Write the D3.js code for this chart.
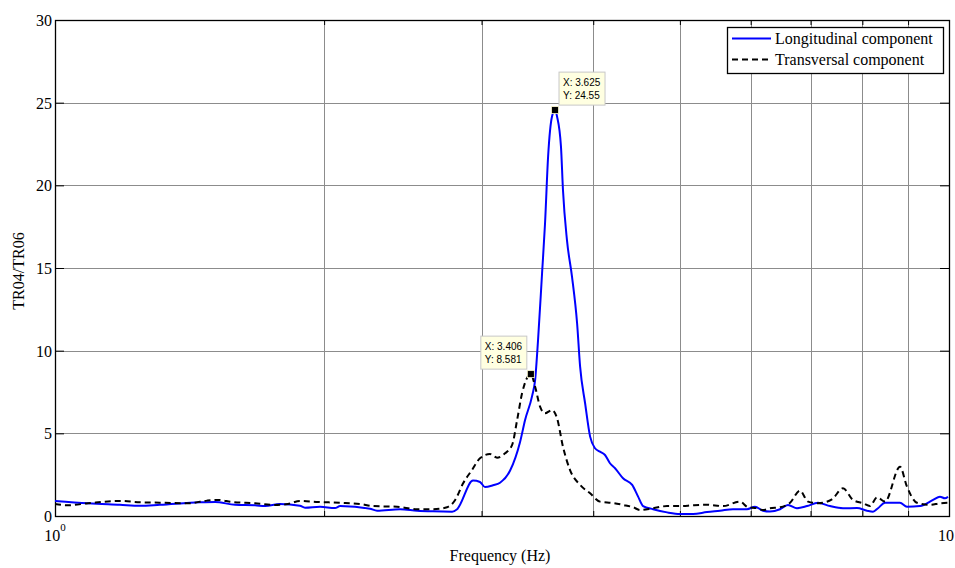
<!DOCTYPE html>
<html><head><meta charset="utf-8">
<script src="https://cdn.jsdelivr.net/npm/d3@7"></script>
<style>
html,body{margin:0;padding:0;background:#fff;}
svg{display:block;}
</style></head>
<body>
<svg id="chart" width="955" height="568"></svg>
<script>
// ---- data ----
const longFreq = [1.000,1.089,1.182,1.245,1.310,1.453,1.510,1.590,1.674,1.718,1.785,1.879,1.904,1.979,2.057,2.084,2.251,2.292,2.432,2.541,2.647,2.781,2.817,2.935,2.988,3.027,3.090,3.146,3.229,3.313,3.356,3.417,3.444,3.470,3.506,3.533,3.561,3.597,3.625,3.644,3.681,3.700,3.738,3.787,3.837,3.867,3.917,3.968,4.018,4.070,4.123,4.176,4.231,4.319,4.422,4.490,4.548,4.667,4.837,5.003,5.172,5.362,5.544,5.733,5.943,6.067,6.193,6.305,6.471,6.605,6.761,6.938,7.136,7.360,7.610,7.890,8.096,8.222,8.329,8.480,8.814,8.974,9.281,9.597,9.770,9.897,9.975];
const longVal = [0.91,0.77,0.68,0.62,0.68,0.83,0.85,0.68,0.65,0.60,0.73,0.62,0.50,0.56,0.48,0.60,0.44,0.32,0.41,0.32,0.28,0.26,0.41,2.14,2.06,1.75,1.86,2.01,2.75,4.48,5.81,7.25,8.23,10.65,14.68,17.71,21.74,24.16,24.55,24.16,22.34,19.72,16.70,14.48,11.66,9.03,6.82,4.80,4.10,3.89,3.69,3.19,2.89,2.28,1.88,1.17,0.60,0.41,0.22,0.12,0.12,0.24,0.32,0.41,0.41,0.56,0.32,0.27,0.41,0.67,0.47,0.60,0.80,0.60,0.47,0.48,0.32,0.26,0.47,0.80,0.80,0.56,0.60,0.97,1.17,1.07,1.17];

const transFreq = [1.000,1.034,1.089,1.182,1.245,1.328,1.408,1.479,1.521,1.578,1.674,1.762,1.822,1.879,1.969,2.084,2.194,2.269,2.413,2.541,2.647,2.745,2.803,2.861,2.927,2.988,3.066,3.122,3.187,3.246,3.288,3.330,3.406,3.444,3.488,3.533,3.597,3.644,3.700,3.768,3.867,3.968,4.070,4.209,4.319,4.433,4.513,4.667,4.837,5.003,5.172,5.362,5.587,5.837,5.959,6.098,6.193,6.305,6.471,6.640,6.813,6.955,7.136,7.397,7.610,7.808,8.014,8.158,8.308,8.480,8.814,8.974,9.208,9.522,9.770,9.975];
const transVal = [0.73,0.65,0.77,0.91,0.83,0.80,0.77,0.93,0.97,0.85,0.77,0.67,0.73,0.91,0.85,0.80,0.73,0.60,0.56,0.41,0.41,0.53,0.97,1.98,2.78,3.49,3.75,3.53,3.79,4.30,5.81,7.42,8.581,7.82,6.61,6.21,6.41,5.91,4.19,2.78,1.88,1.37,0.87,0.79,0.67,0.53,0.36,0.47,0.60,0.60,0.65,0.68,0.60,0.87,0.53,0.47,0.36,0.47,0.53,0.80,1.53,0.87,0.77,1.01,1.68,0.97,0.77,0.60,1.13,0.87,2.98,1.77,0.80,0.67,0.77,0.80];

const yTicks = [0,5,10,15,20,25,30];
const xMajorTicks = [1,10];
const xMinorTicks = [2,3,4,5,6,7,8,9];
const seriesNames = ["Longitudinal component","Transversal component"];
const dataTips = [
  {x:3.625, y:24.55, label:["X: 3.625","Y: 24.55"]},
  {x:3.406, y:8.581, label:["X: 3.406","Y: 8.581"]}
];
const xLabel = "Frequency (Hz)";
const yLabel = "TR04/TR06";

// ---- layout ----
const L = 55, R = 949, T = 20, B = 516;
const svg = d3.select("#chart");
const x = d3.scaleLog().domain([1,10]).range([L,R]);
const y = d3.scaleLinear().domain([0,30]).range([B,T]);
const serif = "'Liberation Serif','Times New Roman',serif";

// grid
const grid = svg.append("g").attr("stroke","#8c8c8c").attr("stroke-width",1);
grid.selectAll("line.vx").data(xMinorTicks).join("line")
  .attr("x1",d=>Math.round(x(d))+0.5).attr("x2",d=>Math.round(x(d))+0.5)
  .attr("y1",T).attr("y2",B);
grid.selectAll("line.hy").data(yTicks.filter(d=>d>0&&d<30)).join("line")
  .attr("y1",d=>Math.round(y(d))+0.5).attr("y2",d=>Math.round(y(d))+0.5)
  .attr("x1",L).attr("x2",R);

// axes with d3 axis (ticks inward)
const axL = d3.axisLeft(y).tickValues(yTicks).tickSizeInner(-9).tickSizeOuter(0).tickPadding(3).tickFormat(d3.format("d"));
const gL = svg.append("g").attr("transform",`translate(${L},0)`).call(axL);
gL.select(".domain").remove();
gL.selectAll("text").attr("font-family",serif).attr("font-size",16).attr("fill","#000").attr("dy","0.35em");
gL.selectAll("line").attr("stroke","#000");

const axR = d3.axisRight(y).tickValues(yTicks).tickSizeInner(-9).tickSizeOuter(0).tickFormat("");
const gR = svg.append("g").attr("transform",`translate(${R},0)`).call(axR);
gR.select(".domain").remove();

const axB = d3.axisBottom(x).tickValues(xMinorTicks).tickSizeInner(-5).tickSizeOuter(0).tickFormat("");
const gB = svg.append("g").attr("transform",`translate(0,${B})`).call(axB);
gB.select(".domain").remove();
const axT = d3.axisTop(x).tickValues(xMinorTicks).tickSizeInner(-5).tickSizeOuter(0).tickFormat("");
const gT = svg.append("g").attr("transform",`translate(0,${T})`).call(axT);
gT.select(".domain").remove();

// x major labels 10^n (the right one is cut by the window edge in the reference; keep its visible "10")
const xl = svg.append("g").attr("font-family",serif).attr("font-size",16).attr("fill","#000");
xMajorTicks.forEach((v,i)=>{
  if (i === 0) {
    const t = xl.append("text").attr("x",x(v)).attr("y",541).attr("text-anchor","middle");
    t.append("tspan").text("10");
    t.append("tspan").attr("dy",-10).attr("font-size",11).text(String(Math.round(Math.log10(v))));
  } else {
    xl.append("text").attr("x",Math.min(x(v)+5,954)).attr("y",541).attr("text-anchor","end").text("10");
  }
});

// box
svg.append("rect").attr("x",L+0.5).attr("y",T+0.5).attr("width",R-L).attr("height",B-T)
  .attr("fill","none").attr("stroke","#000").attr("stroke-width",1.3);

// clip for lines
svg.append("clipPath").attr("id","pc").append("rect").attr("x",L).attr("y",T).attr("width",R-L).attr("height",B-T);

const line = d3.line().x(d=>x(d[0])).y(d=>y(d[1])).curve(d3.curveMonotoneX);
const longData = longFreq.map((f,i)=>[f,longVal[i]]);
const transData = transFreq.map((f,i)=>[f,transVal[i]]);

svg.append("path").datum(longData).attr("clip-path","url(#pc)")
  .attr("d",line).attr("fill","none").attr("stroke","#0000ff").attr("stroke-width",2);
svg.append("path").datum(transData).attr("clip-path","url(#pc)")
  .attr("d",line).attr("fill","none").attr("stroke","#000").attr("stroke-width",2)
  .attr("stroke-dasharray","6,4");

// data tips
const tipOffsets = [{dx:4,dy:-38},{dx:-50,dy:-38}];
dataTips.forEach((d,i)=>{
  const px = x(d.x), py = y(d.y);
  const g = svg.append("g");
  const o = tipOffsets[i];
  g.append("rect").attr("x",px+o.dx).attr("y",py+o.dy).attr("width",46).attr("height",33)
    .attr("fill","#ffffe1").attr("stroke","#c8c8c8").attr("stroke-width",1);
  d.label.forEach((s,j)=>{
    g.append("text").attr("x",px+o.dx+4).attr("y",py+o.dy+14+j*12.5)
      .attr("font-family","'Liberation Sans',Arial,sans-serif").attr("font-size",10).attr("fill","#000").text(s);
  });
  g.append("rect").attr("x",px-3.5).attr("y",py-3.5).attr("width",7).attr("height",7).attr("fill","#000")
    .attr("stroke","#fffbd0").attr("stroke-width",0.8);
});

// legend
const lg = svg.append("g");
lg.append("rect").attr("x",727.5).attr("y",27.5).attr("width",216).attr("height",46)
  .attr("fill","#fff").attr("stroke","#000").attr("stroke-width",1.3);
const legItems = [{name:seriesNames[0],color:"#0000ff",dash:null},{name:seriesNames[1],color:"#000",dash:"6,4"}];
legItems.forEach((it,i)=>{
  const yy = 38.5 + i*21;
  lg.append("line").attr("x1",732).attr("x2",771).attr("y1",yy).attr("y2",yy)
    .attr("stroke",it.color).attr("stroke-width",2).attr("stroke-dasharray",it.dash);
  lg.append("text").attr("x",775).attr("y",yy+5.5).attr("font-family",serif).attr("font-size",16)
    .attr("fill","#000").text(it.name);
});

// axis labels
svg.append("text").attr("x",500).attr("y",561).attr("text-anchor","middle")
  .attr("font-family",serif).attr("font-size",16).attr("fill","#000").text(xLabel);
svg.append("text").attr("transform","translate(24,271) rotate(-90)").attr("text-anchor","middle")
  .attr("font-family",serif).attr("font-size",16).attr("fill","#000").text(yLabel);
</script>
</body></html>
